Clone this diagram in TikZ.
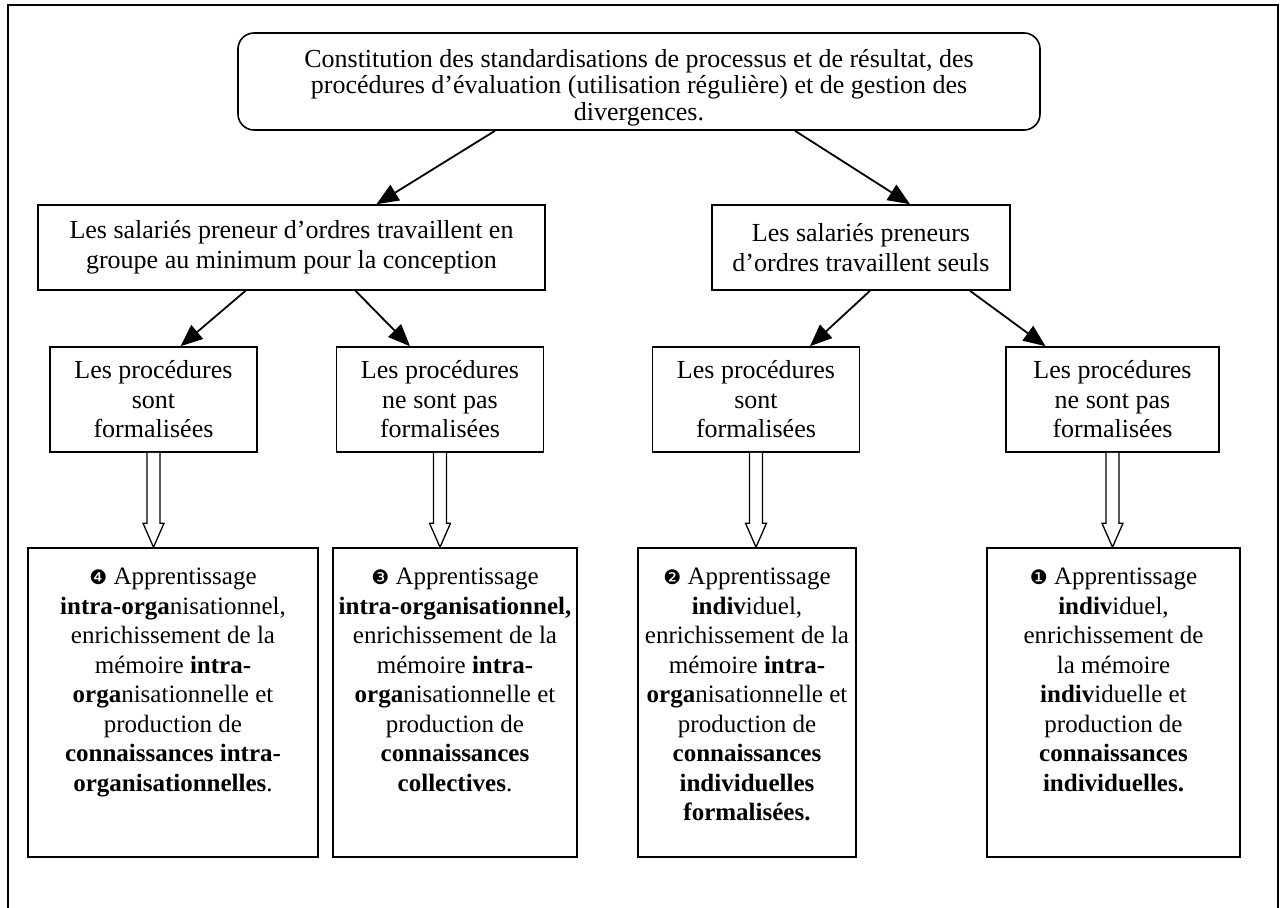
\documentclass[tikz,border=0pt]{standalone}
\usepackage{fontspec}
\setmainfont{Liberation Serif}
\newfontfamily\dingfont{DejaVu Sans}
\usetikzlibrary{calc,arrows.meta}
\newcommand\circnum[1]{{\dingfont\fontsize{20}{20}\selectfont #1}}
\newcommand\hollowarrow[2]{%
  \draw[line width=1.3pt, fill=white] let \p1=(#1.south), \p2=(#2.north) in
    (\x1-6.5pt,\y1) -- (\x1-6.5pt,\y2+24pt) -- (\x1-10.5pt,\y2+24pt) -- (\x1,\y2)
    -- (\x1+10.5pt,\y2+24pt) -- (\x1+6.5pt,\y2+24pt) -- (\x1+6.5pt,\y1);}
\begin{document}
\begin{tikzpicture}[x=1pt,y=-1pt,
  every node/.style={font=\fontsize{26}{29.5}\selectfont, align=center, inner sep=0pt},
  box/.style={draw, line width=1.6pt},
  lowbox/.style={draw, line width=1.6pt, font=\fontsize{25}{29.5}\selectfont},
  arr/.style={line width=1.8pt, -{Triangle[length=22pt,width=18pt]}}]
\useasboundingbox (0,0) rectangle (1286,908);
\draw[line width=1.4pt] (8,908) -- (8,5) -- (1278,5) -- (1278,908);

\node[box, rounded corners=16pt] (top) at (639,81.5)
  {\parbox[c][97pt][t]{802pt}{\centering\fontsize{26}{26.5}\selectfont\vspace*{16pt}%
   Constitution des standardisations de processus et de résultat, des\\
   procédures d'évaluation (utilisation régulière) et de gestion des\\
   divergences.}};

\node[box, minimum width=507pt, minimum height=85pt] (L1) at (291.5,247.5)
  {Les salariés preneur d'ordres travaillent en\\ groupe au minimum pour la conception};
\node[box, minimum width=298pt, minimum height=85pt] (R1) at (861,247.5)
  {Les salariés preneurs\\ d'ordres travaillent seuls};

\node[box, minimum width=207pt, minimum height=105pt] (A) at (153.5,399.5)
  {Les procédures\\ sont\\ formalisées};
\node[box, minimum width=207pt, minimum height=105pt] (B) at (440,399.5)
  {Les procédures\\ ne sont pas\\ formalisées};
\node[box, minimum width=207pt, minimum height=105pt] (C) at (756,399.5)
  {Les procédures\\ sont\\ formalisées};
\node[box, minimum width=213pt, minimum height=105pt] (D) at (1112.5,399.5)
  {Les procédures\\ ne sont pas\\ formalisées};

\node[lowbox] (b4) at (173,702.5) {\parbox[c][309pt][t]{290pt}{\centering\vspace*{20pt}
  \circnum{❹} Apprentissage\\
  \textbf{intra-orga}nisationnel,\\
  enrichissement de la\\
  mémoire \textbf{intra-}\\
  \textbf{orga}nisationnelle et\\
  production de\\
  \textbf{connaissances intra-}\\
  \textbf{organisationnelles}.}};
\node[lowbox] (b3) at (455,702.5) {\parbox[c][309pt][t]{244pt}{\centering\vspace*{20pt}
  \circnum{❸} Apprentissage\\
  \textbf{intra-organisationnel,}\\
  enrichissement de la\\
  mémoire \textbf{intra-}\\
  \textbf{orga}nisationnelle et\\
  production de\\
  \textbf{connaissances}\\
  \textbf{collectives}.}};
\node[lowbox] (b2) at (747,702.5) {\parbox[c][309pt][t]{218pt}{\centering\vspace*{20pt}
  \circnum{❷} Apprentissage\\
  \textbf{indiv}iduel,\\
  enrichissement de la\\
  mémoire \textbf{intra-}\\
  \textbf{orga}nisationnelle et\\
  production de\\
  \textbf{connaissances}\\
  \textbf{individuelles}\\
  \textbf{formalisées.}}};
\node[lowbox] (b1) at (1113.5,702.5) {\parbox[c][309pt][t]{253pt}{\centering\vspace*{20pt}
  \circnum{❶} Apprentissage\\
  \textbf{indiv}iduel,\\
  enrichissement de\\
  la mémoire\\
  \textbf{indiv}iduelle et\\
  production de\\
  \textbf{connaissances}\\
  \textbf{individuelles.}}};

\draw[arr] ($(top.south)+(-144,0)$) -- ($(L1.north)+(85,0)$);
\draw[arr] ($(top.south)+(156,0)$) -- ($(R1.north)+(49,0)$);
\draw[arr] ($(L1.south)+(-46,0)$) -- ($(A.north)+(27,0)$);
\draw[arr] ($(L1.south)+(64,0)$) -- ($(B.north)+(-30,0)$);
\draw[arr] ($(R1.south)+(9,0)$) -- ($(C.north)+(54,0)$);
\draw[arr] ($(R1.south)+(109,0)$) -- ($(D.north)+(-67,0)$);

\hollowarrow{A}{b4}
\hollowarrow{B}{b3}
\hollowarrow{C}{b2}
\hollowarrow{D}{b1}
\end{tikzpicture}
\end{document}
